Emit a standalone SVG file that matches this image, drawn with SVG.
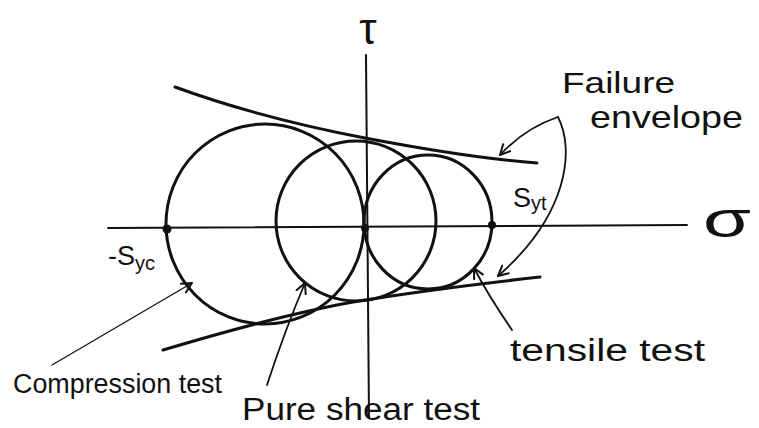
<svg xmlns="http://www.w3.org/2000/svg" width="759" height="428" viewBox="0 0 759 428">
<defs>
<style>
.ink{fill:none;stroke:#111;stroke-linecap:round;stroke-linejoin:round}
.axis{stroke-width:2}
.circ{stroke-width:3}
.env{stroke-width:3}
.lead{stroke-width:1.8}
.thin{stroke-width:1.3}
.lbl{font-family:"Liberation Sans","DejaVu Sans",sans-serif;fill:#111}
.dot{fill:#111}
</style>
<marker id="ah" viewBox="0 0 12 12" refX="11" refY="6" markerWidth="12" markerHeight="12" markerUnits="userSpaceOnUse" orient="auto">
<path d="M1,1 L11,6 L1,11" fill="none" stroke="#111" stroke-width="2" stroke-linecap="round" stroke-linejoin="round"/>
</marker>
</defs>
<rect width="759" height="428" fill="#fff"/>

<g id="axes">
<line class="ink axis" x1="108" y1="228" x2="687" y2="225"/>
<line class="ink axis" x1="366" y1="55" x2="369" y2="418"/>
<text class="lbl" x="368" y="44" font-size="44" text-anchor="middle">τ</text>
<text class="lbl" x="703" y="237" font-size="50" textLength="48" lengthAdjust="spacingAndGlyphs">σ</text>
</g>

<g id="circles">
<ellipse class="ink circ" cx="265" cy="224" rx="99" ry="100"/>
<circle class="ink circ" cx="356" cy="221" r="80"/>
<ellipse class="ink circ" cx="428" cy="222" rx="64" ry="67"/>
<circle class="dot" cx="167" cy="229" r="4.5"/>
<circle class="dot" cx="365" cy="228" r="4"/>
<circle class="dot" cx="492" cy="225" r="4"/>
</g>

<g id="envelope">
<path class="ink env" d="M175,87 Q260,118 365,138 Q470,158 537,163"/>
<path class="ink env" d="M163,350 Q290,312 365,300 Q440,288 540,277"/>
</g>

<g id="connectors">
<path class="ink lead" d="M558,117 Q525,128 500,155" marker-end="url(#ah)"/>
<path class="ink lead" d="M558,117 C575,150 568,215 498,276" marker-end="url(#ah)"/>
<path class="ink lead" d="M512,330 Q488,295 474,268" marker-end="url(#ah)"/>
<path class="ink lead" d="M267,385 Q285,330 305,283" marker-end="url(#ah)"/>
<path class="ink thin" d="M52,365 L192,283" marker-end="url(#ah)"/>
</g>

<g id="labels">
<text class="lbl" x="562" y="93" font-size="30" textLength="113" lengthAdjust="spacingAndGlyphs">Failure</text>
<text class="lbl" x="590" y="128" font-size="32" textLength="153" lengthAdjust="spacingAndGlyphs">envelope</text>
<text class="lbl" x="513" y="207" font-size="27">S<tspan font-size="20" dy="3">yt</tspan></text>
<text class="lbl" x="108" y="265" font-size="27">-S<tspan font-size="20" dy="5">yc</tspan></text>
<text class="lbl" x="13" y="393" font-size="27" textLength="209" lengthAdjust="spacingAndGlyphs">Compression test</text>
<text class="lbl" x="242" y="420" font-size="31" textLength="238" lengthAdjust="spacingAndGlyphs">Pure shear test</text>
<text class="lbl" x="510" y="361" font-size="31" textLength="195" lengthAdjust="spacingAndGlyphs">tensile test</text>
</g>
</svg>
